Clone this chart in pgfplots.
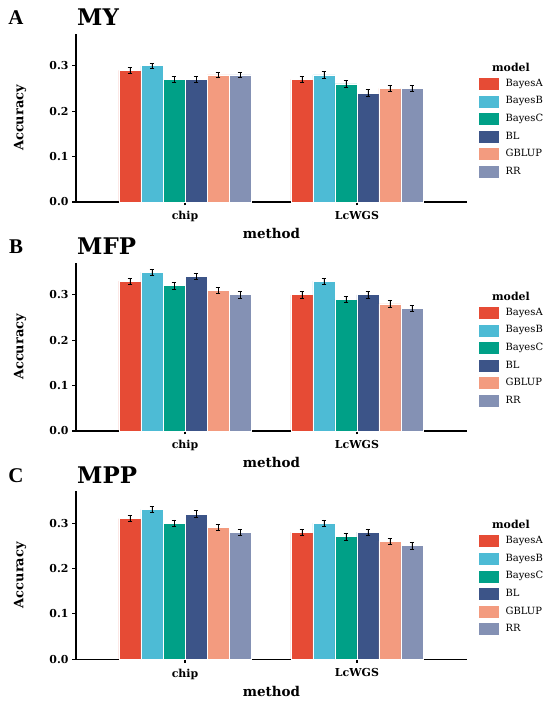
\documentclass[border=0pt]{standalone}
\usepackage{pgfplots}
\pgfplotsset{compat=1.18}
\usepackage{fontspec}
\setmainfont{DejaVu Serif}
\newfontfamily\titlefont{Liberation Serif}
\definecolor{cA}{HTML}{E64B35}
\definecolor{cB}{HTML}{4DBBD5}
\definecolor{cC}{HTML}{00A087}
\definecolor{cD}{HTML}{3C5488}
\definecolor{cE}{HTML}{F39B7F}
\definecolor{cF}{HTML}{8491B4}
\pgfplotsset{
  panel/.style={
    scale only axis, width=391bp, height=168bp,
    xmin=-0.634, xmax=1.64, ymin=0, ymax=0.37,
    axis lines=left, axis line style={-, line width=1.1bp, black},
    xtick={0,1}, xticklabels={chip,LcWGS},
    ytick={0,0.1,0.2,0.3},
    /pgf/number format/assume math mode=true,
    yticklabel style={/pgf/number format/.cd, fixed, fixed zerofill, precision=1, /tikz/.cd, font=\bfseries\fontsize{11}{13}\selectfont, xshift=-0.5bp},
    xticklabel style={font=\bfseries\fontsize{11}{13}\selectfont, yshift=-2.5bp},
    tick align=outside, major tick length=3.5bp, tick style={line width=1.1bp, black},
    every axis y label/.style={at={(axis description cs:-0.1432,0.5)}, rotate=90, anchor=center, font=\bfseries\fontsize{13}{15}\selectfont},
    every axis x label/.style={at={(axis description cs:0.5,-0.19)}, anchor=center, font=\bfseries\fontsize{13.5}{15}\selectfont},
    ylabel={Accuracy}, xlabel={method},
    clip=false,
    legend style={at={(rel axis cs:1.0307,0.738)}, anchor=north west, draw=none, fill=none, inner sep=0pt, outer sep=0pt, row sep=6bp,
      nodes={inner sep=0pt, text height=8bp, text depth=3bp, font=\fontsize{10}{12}\selectfont, anchor=base west}},
    legend cell align=left,
  },
  bars/.style={ybar, bar width=0.128, bar shift=0pt, fill=#1, draw=white, line width=0.6bp,
    legend image code/.code={\fill[#1] (0bp,-3bp) rectangle (19bp,8bp); \path (26bp,0bp);},
    error bars/.cd, y dir=both, y explicit,
    error bar style={black, line width=0.7bp},
    error mark options={rotate=90, black, mark size=2.3bp, line width=0.7bp}},
}
\begin{document}
\begin{tikzpicture}
\useasboundingbox (0,0) rectangle (550bp,702bp);
% ---------- Panel A ----------
\node[font=\titlefont\bfseries\fontsize{21}{24}\selectfont, anchor=base] at (16bp,677bp) {A};
\node[font=\bfseries\fontsize{23}{26}\selectfont, anchor=base west, inner sep=0pt] at (77bp,676bp) {MY};
\begin{axis}[panel, at={(76bp,500bp)}, anchor=south west]
\addplot[bars=cA] coordinates {(-0.32,0.29) +- (0,0.006) (0.68,0.27) +- (0,0.007)};
\addlegendentry{BayesA}
\addplot[bars=cB] coordinates {(-0.192,0.30) +- (0,0.006) (0.808,0.28) +- (0,0.007)};
\addlegendentry{BayesB}
\addplot[bars=cC] coordinates {(-0.064,0.27) +- (0,0.006) (0.936,0.26) +- (0,0.007)};
\addlegendentry{BayesC}
\addplot[bars=cD] coordinates {(0.064,0.27) +- (0,0.006) (1.064,0.24) +- (0,0.007)};
\addlegendentry{BL}
\addplot[bars=cE] coordinates {(0.192,0.28) +- (0,0.006) (1.192,0.25) +- (0,0.007)};
\addlegendentry{GBLUP}
\addplot[bars=cF] coordinates {(0.32,0.28) +- (0,0.006) (1.32,0.25) +- (0,0.007)};
\addlegendentry{RR}
\node[font=\bfseries\fontsize{11}{13}\selectfont] at (rel axis cs:1.1125,0.8036) {model};
\end{axis}
% ---------- Panel B ----------
\node[font=\titlefont\bfseries\fontsize{21}{24}\selectfont, anchor=base] at (16bp,448.7bp) {B};
\node[font=\bfseries\fontsize{23}{26}\selectfont, anchor=base west, inner sep=0pt] at (77bp,447.7bp) {MFP};
\begin{axis}[panel, at={(76bp,271bp)}, anchor=south west]
\addplot[bars=cA] coordinates {(-0.32,0.33) +- (0,0.007) (0.68,0.30) +- (0,0.007)};
\addlegendentry{BayesA}
\addplot[bars=cB] coordinates {(-0.192,0.35) +- (0,0.007) (0.808,0.33) +- (0,0.007)};
\addlegendentry{BayesB}
\addplot[bars=cC] coordinates {(-0.064,0.32) +- (0,0.007) (0.936,0.29) +- (0,0.007)};
\addlegendentry{BayesC}
\addplot[bars=cD] coordinates {(0.064,0.34) +- (0,0.007) (1.064,0.30) +- (0,0.007)};
\addlegendentry{BL}
\addplot[bars=cE] coordinates {(0.192,0.31) +- (0,0.007) (1.192,0.28) +- (0,0.007)};
\addlegendentry{GBLUP}
\addplot[bars=cF] coordinates {(0.32,0.30) +- (0,0.007) (1.32,0.27) +- (0,0.007)};
\addlegendentry{RR}
\node[font=\bfseries\fontsize{11}{13}\selectfont] at (rel axis cs:1.1125,0.8036) {model};
\end{axis}
% ---------- Panel C ----------
\node[font=\titlefont\bfseries\fontsize{21}{24}\selectfont, anchor=base] at (16bp,219.3bp) {C};
\node[font=\bfseries\fontsize{23}{26}\selectfont, anchor=base west, inner sep=0pt] at (77bp,218.3bp) {MPP};
\begin{axis}[panel, at={(76bp,42.7bp)}, anchor=south west]
\addplot[bars=cA] coordinates {(-0.32,0.31) +- (0,0.007) (0.68,0.28) +- (0,0.007)};
\addlegendentry{BayesA}
\addplot[bars=cB] coordinates {(-0.192,0.33) +- (0,0.007) (0.808,0.30) +- (0,0.007)};
\addlegendentry{BayesB}
\addplot[bars=cC] coordinates {(-0.064,0.30) +- (0,0.007) (0.936,0.27) +- (0,0.007)};
\addlegendentry{BayesC}
\addplot[bars=cD] coordinates {(0.064,0.32) +- (0,0.007) (1.064,0.28) +- (0,0.007)};
\addlegendentry{BL}
\addplot[bars=cE] coordinates {(0.192,0.29) +- (0,0.007) (1.192,0.26) +- (0,0.007)};
\addlegendentry{GBLUP}
\addplot[bars=cF] coordinates {(0.32,0.28) +- (0,0.007) (1.32,0.25) +- (0,0.007)};
\addlegendentry{RR}
\node[font=\bfseries\fontsize{11}{13}\selectfont] at (rel axis cs:1.1125,0.8036) {model};
\end{axis}
\end{tikzpicture}
\end{document}
